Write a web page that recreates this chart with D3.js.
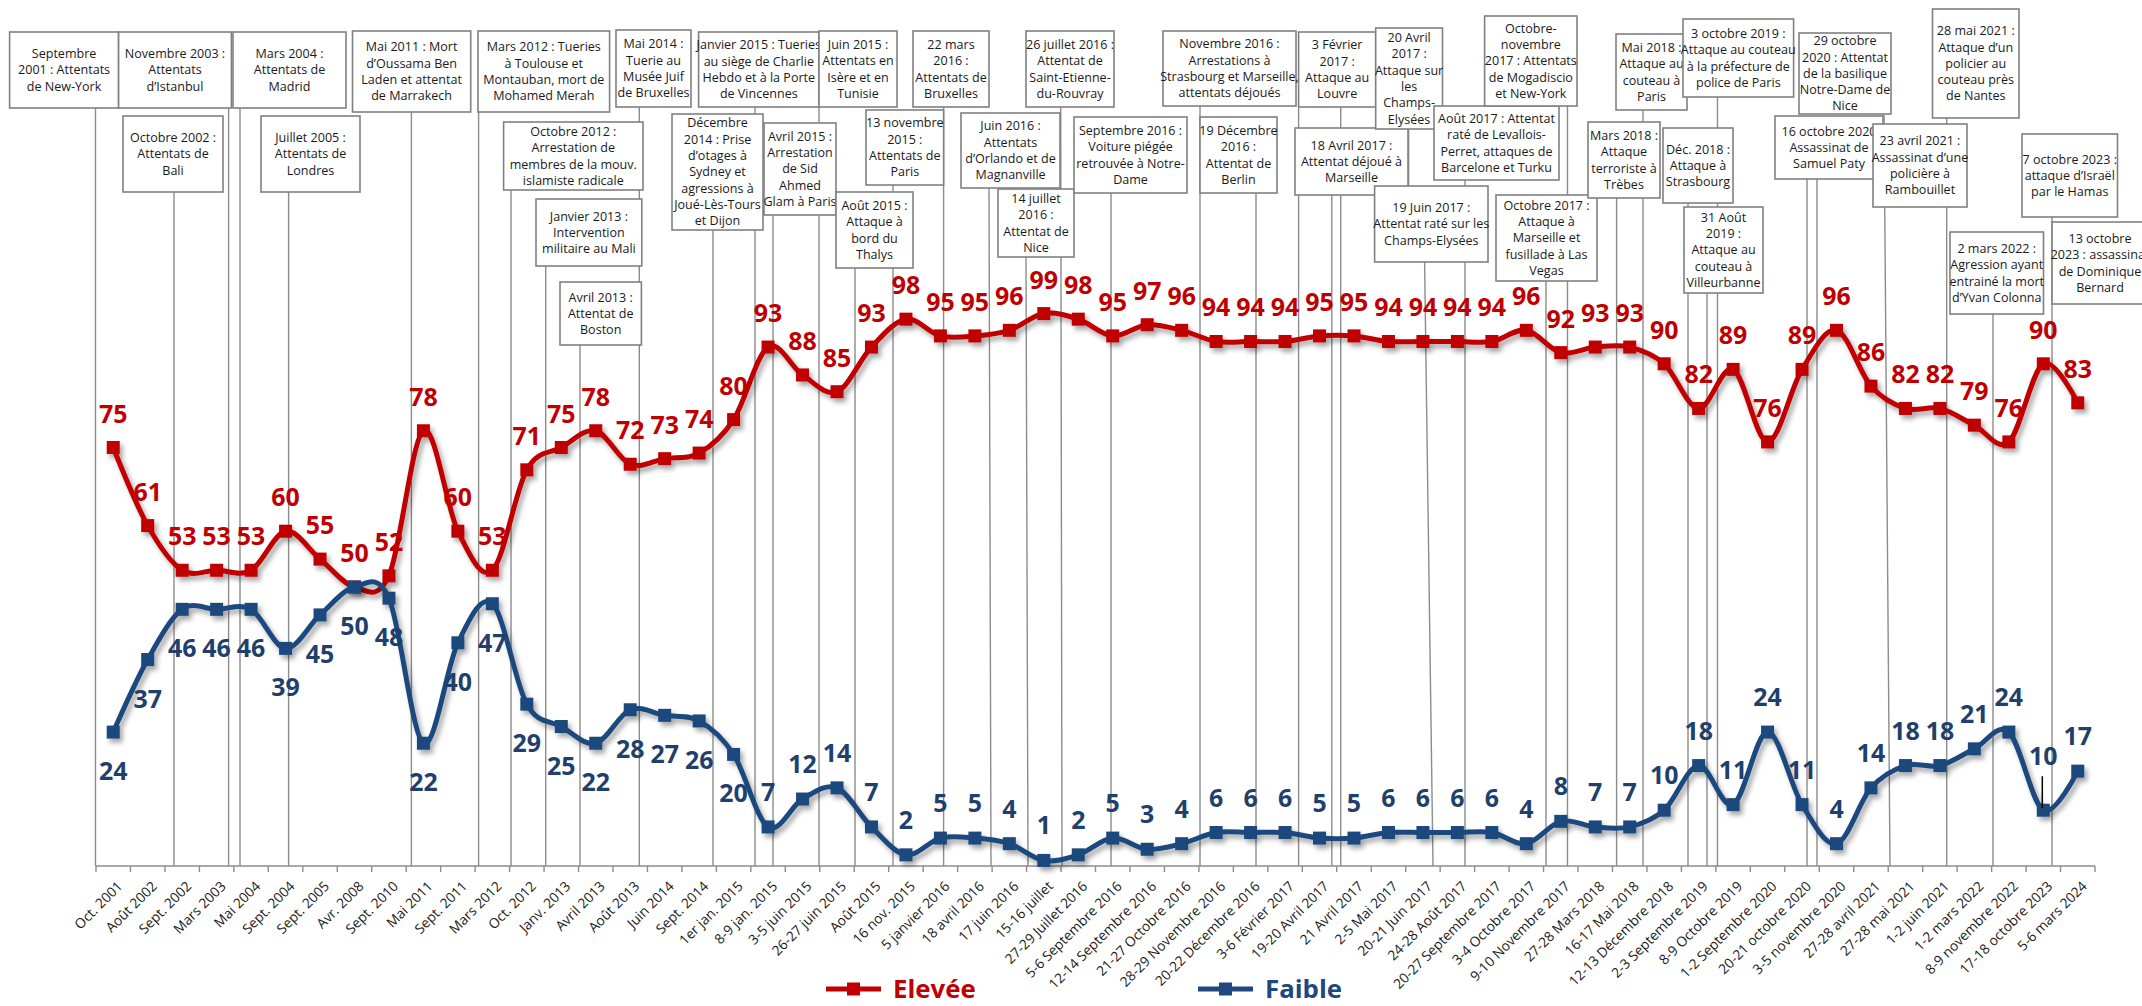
<!DOCTYPE html>
<html><head><meta charset="utf-8">
<script src="https://cdn.jsdelivr.net/npm/d3@7"></script>
<style>body{margin:0;background:#fff;} svg{display:block;background:#fff}</style>
</head><body><svg id="chart" width="2142" height="1006"></svg>
<script>
// ---------------- DATA ----------------
const categories = ["Oct. 2001","Août 2002","Sept. 2002","Mars 2003","Mai 2004","Sept. 2004","Sept. 2005","Avr. 2008","Sept. 2010","Mai 2011",
"Sept. 2011","Mars 2012","Oct. 2012","Janv. 2013","Avril 2013","Août 2013","Juin 2014","Sept. 2014","1er jan. 2015","8-9 jan. 2015",
"3-5 juin 2015","26-27 juin 2015","Août 2015","16 nov. 2015","5 janvier 2016","18 avril 2016","17 juin 2016","15-16 juillet","27-29 Juillet 2016","5-6 Septembre 2016",
"12-14 Septembre 2016","21-27 Octobre 2016","28-29 Novembre 2016","20-22 Décembre 2016","3-6 Février 2017","19-20 Avril 2017","21 Avril 2017","2-5 Mai 2017","20-21 Juin 2017","24-28 Août 2017",
"20-27 Septembre 2017","3-4 Octobre 2017","9-10 Novembre 2017","27-28 Mars 2018","16-17 Mai 2018","12-13 Décembre 2018","2-3 Septembre 2019","8-9 Octobre 2019","1-2 Septembre 2020","20-21 octobre 2020",
"3-5 novembre 2020","27-28 avril 2021","27-28 mai 2021","1-2 juin 2021","1-2 mars 2022","8-9 novembre 2022","17-18 octobre 2023","5-6 mars 2024"];

const seriesNames = ["Elevée","Faible"];

const elevee = [75,61,53,53,53,60,55,50,52,78, 60,53,71,75,78,72,73,74,80,93, 88,85,93,98,95,95,96,99,98,95,
97,96,94,94,94,95,95,94,94,94, 94,96,92,93,93,90,82,89,76,89, 96,86,82,82,79,76,90,83];

const faible = [24,37,46,46,46,39,45,50,48,22, 40,47,29,25,22,28,27,26,20,7, 12,14,7,2,5,5,4,1,2,5,
3,4,6,6,6,5,5,6,6,6, 6,4,8,7,7,10,18,11,24,11, 4,14,18,18,21,24,10,17];

const annotationTexts = [
["Septembre","2001 : Attentats","de New-York"],
["Novembre 2003 :","Attentats","d’Istanbul"],
["Octobre 2002 :","Attentats de","Bali"],
["Mars 2004 :","Attentats de","Madrid"],
["Juillet 2005 :","Attentats de","Londres"],
["Mai 2011 : Mort","d’Oussama Ben","Laden et attentat","de Marrakech"],
["Mars 2012 : Tueries","à Toulouse et","Montauban, mort de","Mohamed Merah"],
["Octobre 2012 :","Arrestation de","membres de la mouv.","islamiste radicale"],
["Janvier 2013 :","Intervention","militaire au Mali"],
["Avril 2013 :","Attentat de","Boston"],
["Mai 2014 :","Tuerie au","Musée Juif","de Bruxelles"],
["Janvier 2015 : Tueries","au siège de Charlie","Hebdo et à la Porte","de Vincennes"],
["Décembre","2014 : Prise","d’otages à","Sydney et","agressions à","Joué-Lès-Tours","et Dijon"],
["Juin 2015 :","Attentats en","Isère et en","Tunisie"],
["Avril 2015 :","Arrestation","de Sid","Ahmed","Glam à Paris"],
["22 mars","2016 :","Attentats de","Bruxelles"],
["13 novembre","2015 :","Attentats de","Paris"],
["Août 2015 :","Attaque à","bord du","Thalys"],
["26 juillet 2016 :","Attentat de","Saint-Etienne-","du-Rouvray"],
["Juin 2016 :","Attentats","d’Orlando et de","Magnanville"],
["14 juillet","2016 :","Attentat de","Nice"],
["Septembre 2016 :","Voiture piégée","retrouvée à Notre-","Dame"],
["Novembre 2016 :","Arrestations à","Strasbourg et Marseille,","attentats déjoués"],
["19 Décembre","2016 :","Attentat de","Berlin"],
["3 Février","2017 :","Attaque au","Louvre"],
["18 Avril 2017 :","Attentat déjoué à","Marseille"],
["20 Avril","2017 :","Attaque sur","les","Champs-","Elysées"],
["Août 2017 : Attentat","raté de Levallois-","Perret, attaques de","Barcelone et Turku"],
["19 Juin 2017 :","Attentat raté sur les","Champs-Elysées"],
["Octobre-","novembre","2017 : Attentats","de Mogadiscio","et New-York"],
["Octobre 2017 :","Attaque à","Marseille et","fusillade à Las","Vegas"],
["Mars 2018 :","Attaque","terroriste à","Trèbes"],
["Mai 2018 :","Attaque au","couteau à","Paris"],
["3 octobre 2019 :","Attaque au couteau","à la préfecture de","police de Paris"],
["Déc. 2018 :","Attaque à","Strasbourg"],
["31 Août","2019 :","Attaque au","couteau à","Villeurbanne"],
["29 octobre","2020 : Attentat","de la basilique","Notre-Dame de","Nice"],
["16 octobre 2020","Assassinat de","Samuel Paty"],
["28 mai 2021 :","Attaque d’un","policier au","couteau près","de Nantes"],
["23 avril 2021 :","Assassinat d’une","policière à","Rambouillet"],
["7 octobre 2023 :","attaque d’Israël","par le Hamas"],
["2 mars 2022 :","Agression ayant","entrainé la mort","d’Yvan Colonna"],
["13 octobre","2023 : assassinat","de Dominique","Bernard"]
];

// ---------------- LAYOUT (pixels) ----------------
const W = 2142, H = 1006;
const AX_Y = 866, AX_X0 = 96, AX_X1 = 2095;
// box: [x0, x1, y0, y1]
const annotationBoxes = [
[9.6,118.6,32,108],[118.6,231.4,32,108],[123,223,116,192],[233,346,32,108],[261,360,116,192],
[352.5,470.7,31,112],[478,609.6,31,112],[503.6,643,122,190],[536,641.8,199,266],[560,641.4,282,345],
[616,691,30,107],[698.6,819,32,107],[672,763,114,230],[819,897,31,107],[764,836,123,215],
[913,989,31,107],[866,943.6,110,185],[836,913,192,268],[1026,1114,31,107],[961,1060,113,188],
[998,1074,189,257],[1074,1187,117,193],[1163,1296,31,106],[1200,1277,117,193],[1298.6,1375.7,32,107],
[1295,1408,128,195],[1375.7,1442.5,28,129],[1434,1559,106,180],[1374.6,1488,186,262],[1484.6,1577,16,106],
[1496,1597,195,281],[1588,1660,122,198],[1616,1687,34,110],[1683,1793.6,19,97],[1663,1733,128,203],
[1684,1763,207,293],[1799,1891,33,114],[1775,1883,116,179],[1932.5,2019,9,118],[1873,1967,124,207],
[2022,2117.5,134,217],[1950,2043.5,232,314],[2052,2148,222,304]
];
// connectors: [xTop, yTop, xBottom, yBottom]
const connectors = [
[95.5,108,95.5,AX_Y],[228.6,108,228.6,AX_Y],[174,192,174,AX_Y],[240,108,240,AX_Y],[288.6,192,288.6,AX_Y],
[411.4,112,411.4,AX_Y],[478.6,112,478.6,AX_Y],[511,190,511,AX_Y],[545.7,266,545.7,AX_Y],[580,345,580,AX_Y],
[639.3,107,639.3,AX_Y],[755,107,755,AX_Y],[713,230,713,AX_Y],[819,107,819,AX_Y],[773,215,773,AX_Y],
[943.6,107,943.6,AX_Y],[893,185,893,AX_Y],[855,268,855,AX_Y],[1060.7,107,1062,AX_Y],[989,188,991,AX_Y],
[1026,257,1028,AX_Y],[1111,193,1111,AX_Y],[1200,106,1200,AX_Y],[1256,193,1256,AX_Y],[1298.6,107,1298.6,AX_Y],
[1340.7,107,1340.7,AX_Y],[1331.8,195,1331.8,AX_Y],[1408.6,129,1408.6,186],[1465,180,1465,AX_Y],[1424.6,262,1433,AX_Y],
[1567.5,106,1567.5,AX_Y],[1546,281,1546,AX_Y],[1616.6,198,1616.6,AX_Y],[1643,110,1643,AX_Y],[1717.5,97,1717.5,AX_Y],
[1688,203,1688,AX_Y],[1707,293,1707,AX_Y],[1807,179,1807,AX_Y],[1817,179,1817,AX_Y],[1884,114,1890,AX_Y],
[1946.7,118,1946.7,AX_Y],[2052,217,2052,AX_Y],[1993,314,1993,AX_Y]
];

const RED = "#C00000", BLUE = "#1F497D", BLUE_TXT = "#1F3F6C";

function fontAvailable(f){
  const c = document.createElement("canvas").getContext("2d");
  const s = "abcdefghijklmnopqrstuvwxyz0123456789ABCDEF";
  c.font = "20px monospace"; const a = c.measureText(s).width;
  c.font = `20px '${f}', monospace`; const b = c.measureText(s).width;
  return a !== b;
}
const NARROW = fontAvailable("Liberation Sans Narrow");
const FONT = NARROW ? "'Liberation Sans Narrow', sans-serif" : "'Open Sans', sans-serif";
const K = NARROW ? 1 : 0.86;

const svg = d3.select("#chart");
svg.append("rect").attr("width", W).attr("height", H).attr("fill", "#fff");

const defs = svg.append("defs");
const f = defs.append("filter").attr("id","shadow").attr("x","-5%").attr("y","-5%").attr("width","110%").attr("height","120%");
f.append("feDropShadow").attr("dx",3).attr("dy",4).attr("stdDeviation",2.5).attr("flood-color","#000").attr("flood-opacity",0.35);

const x = d3.scaleBand().domain(categories).range([AX_X0, AX_X1]).padding(0);
const cx = c => x(c) + x.bandwidth()/2;
const y = d3.scaleLinear().domain([0, 100]).range([AX_Y, 308]);

// connectors
svg.append("g").selectAll("line").data(connectors).join("line")
  .attr("x1", d=>d[0]).attr("y1", d=>d[1]).attr("x2", d=>d[2]).attr("y2", d=>d[3])
  .attr("stroke", "#8c8c8c").attr("stroke-width", 1.4);

// x axis: boundary ticks + line
const axG = svg.append("g");
const bounds = categories.map(c => x(c)).concat([AX_X1]);
axG.selectAll("line.tk").data(bounds).join("line").attr("class","tk")
  .attr("x1", d=>d).attr("x2", d=>d).attr("y1", AX_Y).attr("y2", AX_Y+6)
  .attr("stroke","#8c8c8c").attr("stroke-width",1.4);
axG.append("line").attr("x1", AX_X0).attr("x2", AX_X1).attr("y1", AX_Y).attr("y2", AX_Y)
  .attr("stroke","#8c8c8c").attr("stroke-width",1.6);

// labels via d3 axis
const axis = d3.axisBottom(x).tickSize(0).tickPadding(0);
const labG = svg.append("g").attr("transform", `translate(0,${AX_Y})`).call(axis);
labG.select(".domain").remove();
labG.selectAll(".tick text")
  .attr("font-family", FONT).attr("font-size", 16*K).attr("fill", "#1a1a1a")
  .attr("text-anchor", "end").attr("y", 0).attr("dy", "0.32em")
  .attr("transform", "translate(7,18) rotate(-45)");

// annotation boxes
const annG = svg.append("g");
annotationBoxes.forEach((b, i) => {
  annG.append("rect").attr("x", b[0]).attr("y", b[2]).attr("width", b[1]-b[0]).attr("height", b[3]-b[2])
    .attr("fill", "#fff").attr("stroke", "#808080").attr("stroke-width", 1.6);
  const lines = annotationTexts[i];
  const lh = 16.3;
  const midX = (b[0]+b[1])/2, midY = (b[2]+b[3])/2;
  const t = annG.append("text").attr("font-family", FONT).attr("font-size", 14.6*K)
    .attr("fill", "#1a1a1a").attr("text-anchor", "middle");
  lines.forEach((ln, j) => {
    t.append("tspan").attr("x", midX).attr("y", midY + (j - (lines.length-1)/2)*lh).attr("dy","0.35em").text(ln);
  });
});

// series
const line = d3.line().x(d=>cx(d.c)).y(d=>y(d.v)).curve(d3.curveCatmullRom.alpha(0));
const series = [
  {name: seriesNames[0], vals: elevee, color: RED, txt: RED},
  {name: seriesNames[1], vals: faible, color: BLUE, txt: BLUE_TXT}
];
const MS = 13;
series.forEach(s => {
  const pts = s.vals.map((v,i)=>({c: categories[i], v, i}));
  const g = svg.append("g").attr("filter","url(#shadow)");
  g.append("path").attr("d", line(pts)).attr("fill","none").attr("stroke", s.color).attr("stroke-width", 5).attr("stroke-linejoin","round");
  g.selectAll("rect").data(pts).join("rect")
    .attr("x", d=>cx(d.c)-MS/2).attr("y", d=>y(d.v)-MS/2).attr("width", MS).attr("height", MS).attr("fill", s.color);
});

// data labels
const LBL = 29*K;
const redPts = elevee.map((v,i)=>({c: categories[i], v, i}));
svg.append("g").selectAll("text").data(redPts).join("text")
  .attr("x", d=>cx(d.c)).attr("y", d=>y(d.v)-25)
  .attr("text-anchor","middle").attr("font-family", FONT).attr("font-weight","bold")
  .attr("font-size", LBL).attr("fill", RED).text(d=>d.v);
const bluePts = faible.map((v,i)=>({c: categories[i], v, i}));
const blueOff = d => d.i <= 18 ? 48 : (d.i === 56 ? -45 : -26);
svg.append("g").selectAll("text").data(bluePts).join("text")
  .attr("x", d=>cx(d.c)).attr("y", d=>y(d.v)+blueOff(d))
  .attr("text-anchor","middle").attr("font-family", FONT).attr("font-weight","bold")
  .attr("font-size", LBL).attr("fill", BLUE_TXT).text(d=>d.v);
// leader line for moved label
{
  const d = bluePts[56];
  svg.append("line").attr("x1", cx(d.c)-1).attr("x2", cx(d.c)-1).attr("y1", y(d.v)-34).attr("y2", y(d.v)-2)
    .attr("stroke","#000").attr("stroke-width",1.5);
}

// legend
const leg = svg.append("g");
[[826, 881, 893, RED, seriesNames[0]], [1198, 1253, 1265, BLUE, seriesNames[1]]].forEach(([a,b,tx,col,name])=>{
  const ly = 989;
  leg.append("line").attr("x1",a).attr("x2",b).attr("y1",ly).attr("y2",ly).attr("stroke",col).attr("stroke-width",5);
  leg.append("rect").attr("x",(a+b)/2-MS/2).attr("y",ly-MS/2).attr("width",MS).attr("height",MS).attr("fill",col);
  leg.append("text").attr("x",tx).attr("y",ly+9).attr("font-family",FONT).attr("font-weight","bold")
    .attr("font-size",30*K).attr("fill",col).text(name);
});
</script>
</body></html>
